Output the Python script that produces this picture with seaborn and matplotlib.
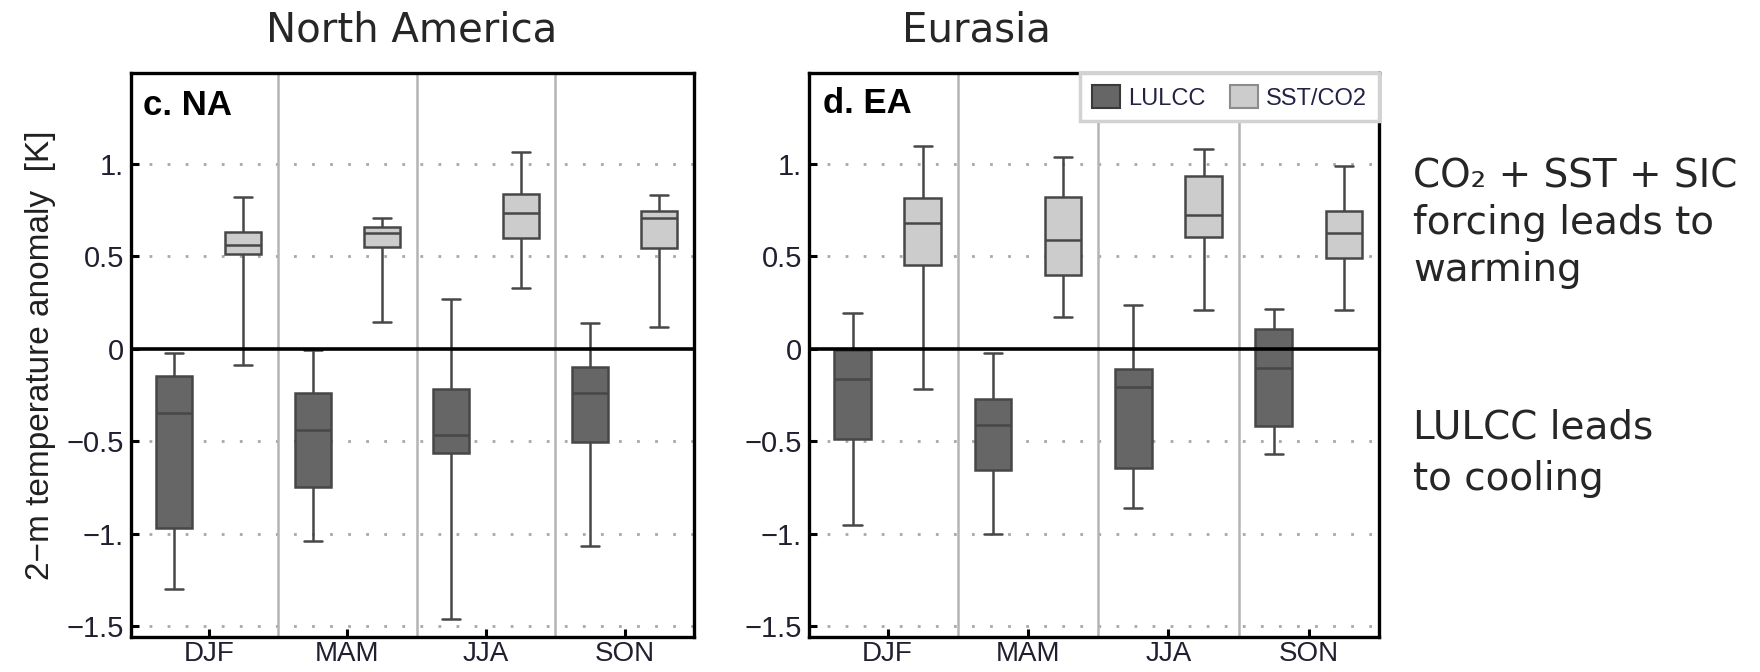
import numpy as np
import pandas as pd
import matplotlib
matplotlib.use("Agg")
import matplotlib.pyplot as plt
import seaborn as sns
from matplotlib.patches import Patch

# ---------------- data (five-number summaries) ----------------
seasons = ["DJF", "MAM", "JJA", "SON"]
forcings = ["LULCC", "SST/CO2"]
stat_names = ["whisker_low", "q1", "median", "q3", "whisker_high"]

# North America
na_lulcc_low = [-1.30, -1.04, -1.46, -1.07]
na_lulcc_q1 = [-0.97, -0.75, -0.565, -0.505]
na_lulcc_med = [-0.35, -0.44, -0.465, -0.24]
na_lulcc_q3 = [-0.145, -0.24, -0.22, -0.10]
na_lulcc_high = [-0.025, -0.005, 0.27, 0.14]

na_sst_low = [-0.09, 0.145, 0.33, 0.12]
na_sst_q1 = [0.515, 0.55, 0.60, 0.545]
na_sst_med = [0.56, 0.625, 0.735, 0.71]
na_sst_q3 = [0.63, 0.66, 0.84, 0.745]
na_sst_high = [0.82, 0.71, 1.065, 0.83]

# Eurasia
ea_lulcc_low = [-0.955, -1.00, -0.86, -0.57]
ea_lulcc_q1 = [-0.49, -0.655, -0.645, -0.42]
ea_lulcc_med = [-0.165, -0.41, -0.205, -0.105]
ea_lulcc_q3 = [-0.005, -0.27, -0.11, 0.105]
ea_lulcc_high = [0.195, -0.025, 0.235, 0.218]

ea_sst_low = [-0.22, 0.17, 0.21, 0.21]
ea_sst_q1 = [0.455, 0.40, 0.605, 0.49]
ea_sst_med = [0.68, 0.59, 0.725, 0.625]
ea_sst_q3 = [0.815, 0.82, 0.935, 0.745]
ea_sst_high = [1.10, 1.04, 1.08, 0.99]

ytick_values = [-1.5, -1.0, -0.5, 0.0, 0.5, 1.0]
ytick_labels = ["\u22121.5", "\u22121.", "\u22120.5", "0", "0.5", "1."]
ylabel = "2\u2212m temperature anomaly  [K]"
panel_titles = ["c. NA", "d. EA"]
region_titles = ["North America", "Eurasia"]
note_warm = "CO\u2082 + SST + SIC\nforcing leads to\nwarming"
note_cool = "LULCC leads\nto cooling"

palette = {"LULCC": "#666666", "SST/CO2": "#cccccc"}


def build_frame(lulcc, sst):
    rows = []
    for forcing, stats in zip(forcings, [lulcc, sst]):
        for i, season in enumerate(seasons):
            for s in stats:
                rows.append({"season": season, "forcing": forcing, "value": s[i]})
    return pd.DataFrame(rows)


df_na = build_frame([na_lulcc_low, na_lulcc_q1, na_lulcc_med, na_lulcc_q3, na_lulcc_high],
                    [na_sst_low, na_sst_q1, na_sst_med, na_sst_q3, na_sst_high])
df_ea = build_frame([ea_lulcc_low, ea_lulcc_q1, ea_lulcc_med, ea_lulcc_q3, ea_lulcc_high],
                    [ea_sst_low, ea_sst_q1, ea_sst_med, ea_sst_q3, ea_sst_high])

# ---------------- style ----------------
sns.set_style("white")
plt.rcParams["font.family"] = ["Liberation Sans", "DejaVu Sans"]
plt.rcParams["axes.unicode_minus"] = True

W, H = 1760, 672
fig = plt.figure(figsize=(W / 100, H / 100), dpi=100)
fig.patch.set_facecolor("white")


def fx(x):
    return x / W


def fy(y):
    return 1 - y / H


top_px, bot_px = 73, 637
ax_na = fig.add_axes([fx(131), fy(bot_px), (694 - 131) / W, (bot_px - top_px) / H])
ax_ea = fig.add_axes([fx(809), fy(bot_px), (1379 - 809) / W, (bot_px - top_px) / H])

edge = "#474747"
tick_color = "#202030"

for ax, df in [(ax_na, df_na), (ax_ea, df_ea)]:
    sns.boxplot(data=df, x="season", y="value", hue="forcing",
                order=seasons, hue_order=forcings, whis=(0, 100),
                width=1.0, gap=0.48, palette=palette, saturation=1,
                linecolor=edge, linewidth=1.8, showfliers=False,
                legend=False, ax=ax, zorder=3)
    ax.set_xlim(-0.56, 3.5)
    ax.set_ylim(-1.56, 1.493)
    for xs in np.arange(len(seasons) - 1) + 0.5:
        ax.axvline(xs, color="#b4b4b4", linewidth=1.8, zorder=1)
    ax.axhline(0, color="black", linewidth=2.6, zorder=4)
    ax.set_yticks(ytick_values)
    ax.set_yticklabels(ytick_labels)
    ax.grid(False)
    for yv in ytick_values:
        if yv != 0:
            ax.axhline(yv, color="#a8a8a8", linewidth=2.0,
                       linestyle=(0, (1, 5.5)), zorder=0.5)
    for sp in ax.spines.values():
        sp.set_color("black")
        sp.set_linewidth(2.4)
        sp.set_visible(True)
    ax.tick_params(axis="both", direction="in", length=6, width=2.2,
                   colors="black", labelcolor=tick_color)
    ax.tick_params(axis="y", pad=5, labelsize=21)
    ax.tick_params(axis="x", pad=3, labelsize=20)
    ax.tick_params(top=False, right=False, left=True, bottom=True)
    ax.set_xlabel("")
    ax.set_ylabel("")

ax_na.set_ylabel(ylabel, fontsize=24, color="#202020", labelpad=8)

# panel labels
fig.text(fx(143), fy(115), panel_titles[0], fontsize=25, fontweight="bold",
         va="baseline", ha="left", color="black")
fig.text(fx(823), fy(113), panel_titles[1], fontsize=25, fontweight="bold",
         va="baseline", ha="left", color="black")

# legend
handles = [Patch(facecolor=palette[f], edgecolor="#3a3a3a" if f == "LULCC" else "#8c8c8c",
                 linewidth=1.5, label=f) for f in forcings]
leg = ax_ea.legend(handles=handles, loc="upper right", ncol=2, fontsize=17,
                   frameon=True, fancybox=False, framealpha=1, edgecolor="#d2d2d2",
                   borderaxespad=0.0, handlelength=1.2, handleheight=1.15,
                   handletextpad=0.35, columnspacing=1.0, borderpad=0.5)
leg.get_frame().set_linewidth(2.5)
for t in leg.get_texts():
    t.set_color("#222244")
leg.set_zorder(6)

# region titles and notes
title_font = ["DejaVu Sans"]
fig.text(fx(412), fy(42), region_titles[0], fontsize=29, ha="center",
         va="baseline", family=title_font)
fig.text(fx(976), fy(42), region_titles[1], fontsize=29, ha="center",
         va="baseline", family=title_font)
fig.text(fx(1413), fy(157), note_warm, fontsize=28, ha="left", va="top",
         family=title_font, linespacing=1.3)
fig.text(fx(1413), fy(409), note_cool, fontsize=28, ha="left", va="top",
         family=title_font, linespacing=1.45)

fig.savefig("out.png", dpi=100, facecolor="white")
